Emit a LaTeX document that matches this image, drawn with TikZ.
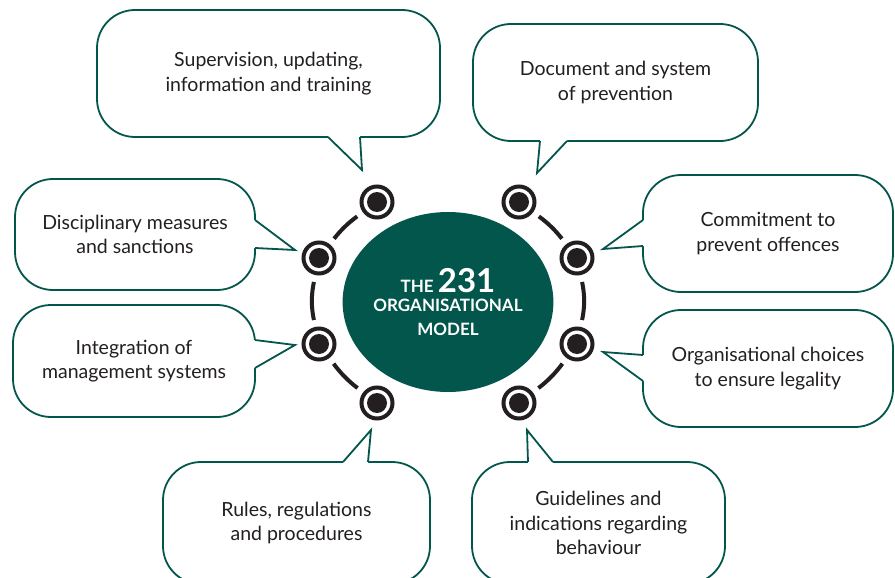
\documentclass[tikz,border=0pt]{standalone}
\usepackage{fontspec}
\setmainfont{Lato}
\usetikzlibrary{shapes.geometric,calc}
\definecolor{modelgreen}{HTML}{03564B}
\definecolor{ringblack}{HTML}{231F20}
\definecolor{textgray}{HTML}{231F20}

\newcommand\bubbletail[4]{%
  \fill[white] (#1) -- (#2) -- (#3) -- ($(#3)+(#4)$) -- ($(#1)+(#4)$) -- cycle;
  \draw[tail] (#1) -- (#2) -- (#3);}

\begin{document}
\begin{tikzpicture}[x=1pt,y=-1pt,
      bubble/.style={rectangle,draw=modelgreen,line width=1.8pt,rounded corners=38pt,
                     fill=white,align=center,text=textgray,
                     font=\fontsize{19.5}{24.5}\selectfont},
      tail/.style={draw=modelgreen,line width=1.8pt,line join=miter},
      ring/.style={circle,draw=ringblack,line width=4pt,fill=white,
                   minimum size=31pt,inner sep=0pt},
      link/.style={draw=ringblack,line width=4pt,shorten <=7pt,shorten >=7pt}]
    \useasboundingbox (0,0) rectangle (895,578);

    \node[ellipse,fill=modelgreen,minimum width=207pt,minimum height=180pt,
          inner sep=0pt,text=white,align=center,
          font=\bfseries\fontsize{17}{24}\selectfont]
          (model) at (448,302)
          {THE {\fontsize{33}{30}\selectfont 231}\\[-5pt] ORGANISATIONAL\\MODEL};

    \node[ring] (tl) at (377,202) {};
    \node[ring] (tr) at (519,202) {};
    \node[ring] (lu) at (319,258) {};
    \node[ring] (ru) at (577,258) {};
    \node[ring] (ll) at (319,344) {};
    \node[ring] (rl) at (577,344) {};
    \node[ring] (bl) at (377,403) {};
    \node[ring] (br) at (519,403) {};
    \foreach \r in {tl,tr,lu,ru,ll,rl,bl,br}
      \fill[ringblack] (\r) circle (10pt);

    \draw[link] (tl) to[bend right=8] (lu);
    \draw[link] (lu) to[bend right=12] (ll);
    \draw[link] (ll) to[bend right=8] (bl);
    \draw[link] (tr) to[bend left=8] (ru);
    \draw[link] (ru) to[bend left=12] (rl);
    \draw[link] (rl) to[bend left=8] (br);

    \node[bubble,minimum width=343pt,minimum height=127pt] (superv) at (268.5,73.5)
      {Supervision, updating,\\information and training};
    \node[bubble,minimum width=285pt,minimum height=117pt] (docum) at (615.5,82.5)
      {Document and system\\of prevention};
    \node[bubble,minimum width=250pt,minimum height=117pt] (commit) at (768,233.5)
      {Commitment to\\prevent offences};
    \node[bubble,minimum width=250pt,minimum height=117pt] (choices) at (768,368.5)
      {Organisational choices\\to ensure legality};
    \node[bubble,minimum width=253pt,minimum height=122pt] (guide) at (598.5,523)
      {Guidelines and\\indications regarding\\behaviour};
    \node[bubble,minimum width=267pt,minimum height=122pt] (rules) at (296.5,523)
      {Rules, regulations\\and procedures};
    \node[bubble,minimum width=240pt,minimum height=111pt] (discip) at (135,234.5)
      {Disciplinary measures\\and sanctions};
    \node[bubble,minimum width=242pt,minimum height=112pt] (integr) at (134,361)
      {Integration of\\management systems};

    \bubbletail{328,137}{362,170}{360,137}{0,-2}
    \bubbletail{540,141}{537,173}{567,141}{0,-2}
    \bubbletail{643,220}{603,249}{643,246}{2,0}
    \bubbletail{643,355}{603,352}{643,381}{2,0}
    \bubbletail{528,462}{527,430}{553,462}{0,2}
    \bubbletail{343,462}{371,430}{368,462}{0,2}
    \bubbletail{255,220}{295,250}{255,248}{-2,0}
    \bubbletail{255,340}{295,345}{255,368}{-2,0}
  \end{tikzpicture}
\end{document}
